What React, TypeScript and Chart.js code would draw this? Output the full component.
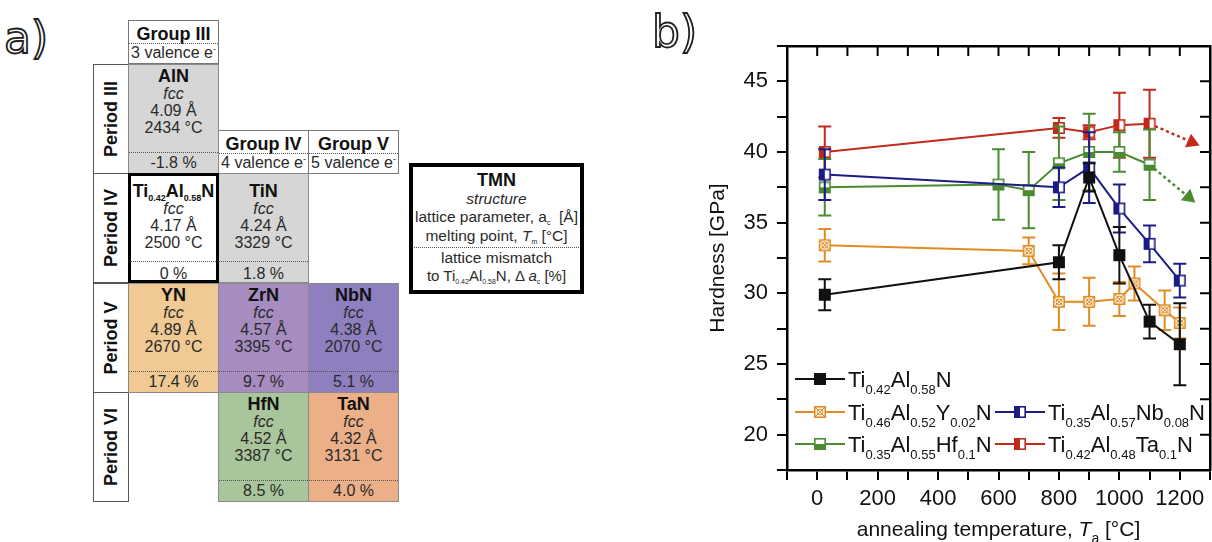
import React, { useEffect, useRef } from 'react';
import { Chart, registerables } from 'chart.js';
Chart.register(...registerables);

const FONT = '"Liberation Sans", Arial, Helvetica, sans-serif';

// ---------------- chart data (b) ----------------
const tempTiAlN = [25, 800, 900, 1000, 1100, 1200];
const hardTiAlN = [29.9, 32.2, 38.2, 32.7, 28.0, 26.4];
const errTiAlN = [1.1, 1.2, 1.0, 2.0, 1.2, 2.9];

const tempTiAlYN = [25, 700, 800, 900, 1000, 1050, 1150, 1200];
const hardTiAlYN = [33.4, 33.0, 29.4, 29.4, 29.6, 30.7, 28.8, 27.9];
const errTiAlYN = [1.15, 0.95, 2.0, 1.7, 1.2, 1.2, 1.4, 1.1];

const tempTiAlNbN = [25, 800, 900, 1000, 1100, 1200];
const hardTiAlNbN = [38.4, 37.5, 38.9, 36.0, 33.5, 30.9];
const errTiAlNbN = [1.8, 1.4, 2.5, 1.7, 1.3, 1.2];

const tempTiAlHfN = [25, 600, 700, 800, 900, 1000, 1100];
const hardTiAlHfN = [37.5, 37.7, 37.3, 39.2, 40.0, 40.0, 39.1];
const errTiAlHfN = [2.0, 2.5, 2.7, 2.6, 2.7, 1.4, 2.5];

const tempTiAlTaN = [25, 800, 900, 1000, 1100];
const hardTiAlTaN = [40.0, 41.7, 41.4, 41.9, 42.0];
const errTiAlTaN = [1.8, 0.7, 0.5, 2.3, 2.4];

const trendTaTemp = [1100, 1240];
const trendTaHard = [42.0, 40.7];
const trendHfTemp = [1100, 1230];
const trendHfHard = [39.1, 36.8];

const seriesLabels = [
  'Ti_{0.42}Al_{0.58}N',
  'Ti_{0.46}Al_{0.52}Y_{0.02}N',
  'Ti_{0.35}Al_{0.57}Nb_{0.08}N',
  'Ti_{0.35}Al_{0.55}Hf_{0.1}N',
  'Ti_{0.42}Al_{0.48}Ta_{0.1}N',
];
const xTickLabels = [0, 200, 400, 600, 800, 1000, 1200];
const yTickLabels = [20, 25, 30, 35, 40, 45];

// ---------------- table data (a) ----------------
const groupHeaders = ['Group III', 'Group IV', 'Group V'];
const groupValence = ['3 valence e', '4 valence e', '5 valence e'];
const periodLabels = ['Period III', 'Period IV', 'Period V', 'Period VI'];
const tmnNames = ['AlN', 'Ti_{0.42}Al_{0.58}N', 'TiN', 'YN', 'ZrN', 'NbN', 'HfN', 'TaN'];
const tmnStructure = ['fcc', 'fcc', 'fcc', 'fcc', 'fcc', 'fcc', 'fcc', 'fcc'];
const tmnLattice = ['4.09', '4.17', '4.24', '4.89', '4.57', '4.38', '4.52', '4.32'];
const tmnMelting = ['2434', '2500', '3329', '2670', '3395', '2070', '3387', '3131'];
const tmnMismatch = ['-1.8', '0', '1.8', '17.4', '9.7', '5.1', '8.5', '4.0'];
const tmnCol = [0, 0, 1, 0, 1, 2, 1, 2];
const tmnRow = [0, 1, 1, 2, 2, 2, 3, 3];

// ---------------- styles ----------------
const seriesColors = ['#111111', '#e08c24', '#1c1c86', '#4b8b31', '#c22a1c'];
const seriesMarkers = ['full', 'cross', 'left', 'bottom', 'left'];
const tmnFill = ['#d6d6d6', '#ffffff', '#d6d6d6', '#f0c994', '#a68cc0', '#8e80bf', '#a9c59c', '#ebb088'];
const COLX = [128, 218, 308];
const CW = 90;
const ROWY = [64, 173, 283, 392];
const RH = 110;

type Seg = { t: string; sub?: boolean; italic?: boolean };

function parseRich(s: string): Seg[] {
  const out: Seg[] = [];
  const re = /_\{([^}]*)\}/g;
  let last = 0;
  let m: RegExpExecArray | null;
  while ((m = re.exec(s))) {
    if (m.index > last) out.push({ t: s.slice(last, m.index) });
    out.push({ t: m[1], sub: true });
    last = re.lastIndex;
  }
  if (last < s.length) out.push({ t: s.slice(last) });
  return out;
}

function drawRich(ctx: CanvasRenderingContext2D, segs: Seg[], x: number, y: number, size: number, subSize: number, align: 'left' | 'center') {
  const fontFor = (s: Seg) => `${s.italic ? 'italic ' : ''}${s.sub ? subSize : size}px ${FONT}`;
  let w = 0;
  for (const s of segs) {
    ctx.font = fontFor(s);
    w += ctx.measureText(s.t).width;
  }
  let cx = align === 'center' ? x - w / 2 : x;
  ctx.textBaseline = 'alphabetic';
  ctx.textAlign = 'left';
  for (const s of segs) {
    ctx.font = fontFor(s);
    ctx.fillText(s.t, cx, s.sub ? y + size * 0.32 : y);
    cx += ctx.measureText(s.t).width;
  }
}

function makeMarker(kind: string, color: string): HTMLCanvasElement {
  const s = 14;
  const c = document.createElement('canvas');
  c.width = s;
  c.height = s;
  const g = c.getContext('2d')!;
  g.fillStyle = '#ffffff';
  g.fillRect(1, 1, 12, 12);
  g.fillStyle = color;
  if (kind === 'full') g.fillRect(1, 1, 12, 12);
  if (kind === 'left') g.fillRect(1, 1, 6, 12);
  if (kind === 'bottom') g.fillRect(1, 7, 12, 6);
  g.strokeStyle = color;
  g.lineWidth = 1.6;
  g.strokeRect(1.8, 1.8, 10.4, 10.4);
  if (kind === 'cross') {
    g.lineWidth = 1;
    g.beginPath();
    g.moveTo(2.5, 2.5);
    g.lineTo(11.5, 11.5);
    g.moveTo(11.5, 2.5);
    g.lineTo(2.5, 11.5);
    g.stroke();
    g.beginPath();
    g.arc(7, 7, 3, 0, Math.PI * 2);
    g.stroke();
  }
  return c;
}

const errorBarPlugin = {
  id: 'errorBars',
  beforeDatasetDraw(chart: any, args: any) {
    const ds = chart.data.datasets[args.index];
    const errs: number[] | undefined = ds.errors;
    if (!errs) return;
    const ys = chart.scales.y;
    const ctx = chart.ctx;
    ctx.save();
    ctx.strokeStyle = ds.borderColor;
    ctx.lineWidth = 2;
    args.meta.data.forEach((pt: any, i: number) => {
      const v = ds.data[i].y;
      const e = errs[i];
      const x = pt.x;
      const y1 = ys.getPixelForValue(v + e);
      const y2 = ys.getPixelForValue(v - e);
      ctx.beginPath();
      ctx.moveTo(x, y1);
      ctx.lineTo(x, y2);
      ctx.moveTo(x - 6.5, y1);
      ctx.lineTo(x + 6.5, y1);
      ctx.moveTo(x - 6.5, y2);
      ctx.lineTo(x + 6.5, y2);
      ctx.stroke();
    });
    ctx.restore();
  },
};

const innerTicksPlugin = {
  id: 'innerTicks',
  afterDraw(chart: any) {
    const { ctx, chartArea: a } = chart;
    const xs = chart.scales.x;
    const ys = chart.scales.y;
    ctx.save();
    ctx.strokeStyle = '#000';
    ctx.lineWidth = 2;
    ctx.beginPath();
    xs.ticks.forEach((t: any) => {
      const px = xs.getPixelForValue(t.value);
      ctx.moveTo(px, a.top);
      ctx.lineTo(px, a.top + 10);
    });
    ys.ticks.forEach((t: any) => {
      const py = ys.getPixelForValue(t.value);
      ctx.moveTo(a.right, py);
      ctx.lineTo(a.right - 10, py);
    });
    ctx.stroke();
    ctx.restore();
  },
};

const legendCol = [0, 0, 1, 0, 1];
const legendRow = [0, 1, 1, 2, 2];
const legendColX = [115, 315];
const legendRowY = [379, 412, 444];

function makeLegendPlugin(markers: HTMLCanvasElement[]) {
  return {
    id: 'customLegend',
    afterDraw(chart: any) {
      const ctx = chart.ctx;
      ctx.save();
      seriesLabels.forEach((lab, i) => {
        const x = legendColX[legendCol[i]];
        const y = legendRowY[legendRow[i]];
        ctx.strokeStyle = seriesColors[i];
        ctx.lineWidth = 2;
        ctx.beginPath();
        ctx.moveTo(x, y);
        ctx.lineTo(x + 50, y);
        ctx.stroke();
        ctx.drawImage(markers[i], x + 25 - 7, y - 7);
        ctx.fillStyle = '#111';
        drawRich(ctx, parseRich(lab), x + 53, y + 8, 22, 13, 'left');
      });
      // x axis title
      const a = chart.chartArea;
      ctx.fillStyle = '#111';
      drawRich(
        ctx,
        [{ t: 'annealing temperature, ' }, { t: 'T', italic: true }, { t: 'a', sub: true }, { t: ' [°C]' }],
        (a.left + a.right) / 2,
        536,
        21,
        14,
        'center'
      );
      ctx.restore();
    },
  };
}

const CANVAS_W = 550;

function HardnessChart() {
  const ref = useRef<HTMLCanvasElement>(null);
  useEffect(() => {
    if (!ref.current) return;
    const markers = seriesColors.map((c, i) => makeMarker(seriesMarkers[i], c));
    const temps = [tempTiAlN, tempTiAlYN, tempTiAlNbN, tempTiAlHfN, tempTiAlTaN];
    const hards = [hardTiAlN, hardTiAlYN, hardTiAlNbN, hardTiAlHfN, hardTiAlTaN];
    const errs = [errTiAlN, errTiAlYN, errTiAlNbN, errTiAlHfN, errTiAlTaN];
    const datasets: any[] = seriesLabels.map((lab, i) => ({
      label: lab,
      data: temps[i].map((t, j) => ({ x: t, y: hards[i][j] })),
      errors: errs[i],
      borderColor: seriesColors[i],
      backgroundColor: seriesColors[i],
      borderWidth: 2,
      pointStyle: markers[i],
      pointRadius: 7,
      tension: 0,
    }));
    const arrowRotation = (ctx: any) => {
      const ds = ctx.dataset.data;
      const xs = ctx.chart.scales.x;
      const ys = ctx.chart.scales.y;
      const dx = xs.getPixelForValue(ds[1].x) - xs.getPixelForValue(ds[0].x);
      const dy = ys.getPixelForValue(ds[1].y) - ys.getPixelForValue(ds[0].y);
      return (Math.atan2(dx, -dy) * 180) / Math.PI;
    };
    const trend = (tx: number[], ty: number[], color: string) => ({
      label: '',
      data: tx.map((t, j) => ({ x: t, y: ty[j] })),
      borderColor: color,
      backgroundColor: color,
      borderWidth: 2.5,
      borderDash: [3, 3],
      pointStyle: 'triangle',
      pointRadius: [0, 6],
      pointBorderColor: color,
      pointBackgroundColor: color,
      pointRotation: arrowRotation,
    });
    datasets.push(trend(trendTaTemp, trendTaHard, seriesColors[4]));
    datasets.push(trend(trendHfTemp, trendHfHard, seriesColors[3]));

    const tickFont = { family: FONT, size: 22 };
    const chart = new Chart(ref.current, {
      type: 'line',
      data: { datasets },
      options: {
        animation: false,
        responsive: false,
        maintainAspectRatio: false,
        layout: { padding: 0 },
        plugins: { legend: { display: false }, tooltip: { enabled: false }, title: { display: false } },
        scales: {
          x: {
            type: 'linear',
            position: 'bottom',
            min: -100,
            max: 1300,
            ticks: {
              stepSize: 100,
              autoSkip: false,
              maxRotation: 0,
              color: '#111',
              font: tickFont,
              padding: 6,
              callback: (v: any) => (xTickLabels.includes(Number(v)) ? String(v) : ''),
            },
            grid: { drawOnChartArea: false, drawTicks: true, tickLength: 10, color: '#000', lineWidth: 2 },
            border: { display: true, color: '#000', width: 2.5 },
            afterFit: (s: any) => {
              s.height = 72;
            },
          },
          x2: {
            type: 'linear',
            position: 'top',
            min: -100,
            max: 1300,
            ticks: { display: false },
            grid: { display: false, drawTicks: false },
            border: { display: true, color: '#000', width: 2.5 },
            afterFit: (s: any) => {
              s.height = 46;
            },
          },
          y: {
            type: 'linear',
            position: 'left',
            min: 17.5,
            max: 47.5,
            ticks: {
              stepSize: 2.5,
              autoSkip: false,
              color: '#111',
              font: tickFont,
              padding: 9,
              callback: (v: any) => (yTickLabels.includes(Number(v)) ? String(v) : ''),
            },
            grid: { drawOnChartArea: false, drawTicks: true, tickLength: 10, color: '#000', lineWidth: 2 },
            border: { display: true, color: '#000', width: 2.5 },
            title: {
              display: true,
              text: 'Hardness [GPa]',
              color: '#111',
              font: { family: FONT, size: 21 },
              padding: { top: 26, bottom: 0 },
            },
            afterFit: (s: any) => {
              s.width = 107;
            },
          },
          y2: {
            type: 'linear',
            position: 'right',
            min: 17.5,
            max: 47.5,
            ticks: { display: false },
            grid: { display: false, drawTicks: false },
            border: { display: true, color: '#000', width: 2.5 },
            afterFit: (s: any) => {
              s.width = CANVAS_W - 530;
            },
          },
        },
      } as any,
      plugins: [errorBarPlugin, innerTicksPlugin, makeLegendPlugin(markers)],
    });
    return () => chart.destroy();
  }, []);
  return (
    <canvas
      ref={ref}
      width={CANVAS_W}
      height={542}
      style={{ position: 'absolute', left: 680, top: 0, width: CANVAS_W, height: 542 }}
    />
  );
}

// ---------------- table (a) ----------------
function Sub({ children, size }: { children: React.ReactNode; size: number }) {
  return <span style={{ fontSize: size, position: 'relative', top: size * 0.45 }}>{children}</span>;
}

function Formula({ text, sub }: { text: string; sub: number }) {
  return (
    <>
      {parseRich(text).map((s, i) =>
        s.sub ? (
          <Sub key={i} size={sub}>
            {s.t}
          </Sub>
        ) : (
          <span key={i}>{s.t}</span>
        )
      )}
    </>
  );
}

function Line({ cy, size, bold, italic, children, color }: any) {
  return (
    <div
      style={{
        position: 'absolute',
        left: 0,
        right: 0,
        top: cy - 10,
        height: 20,
        lineHeight: '20px',
        textAlign: 'center',
        fontSize: size,
        fontWeight: bold ? 700 : 400,
        fontStyle: italic ? 'italic' : 'normal',
        whiteSpace: 'nowrap',
        color: color || '#2a2a2a',
      }}
    >
      {children}
    </div>
  );
}

function Dotted({ cy }: { cy: number }) {
  return <div style={{ position: 'absolute', left: 1, right: 1, top: cy, borderTop: '1px dotted #555' }} />;
}

function Frame({ w }: { w: string }) {
  return <div style={{ position: 'absolute', inset: 0, border: w, boxSizing: 'border-box' }} />;
}

function TmnCell({ i }: { i: number }) {
  const x = COLX[tmnCol[i]];
  const y = ROWY[tmnRow[i]];
  const sh = tmnRow[i] === 1 ? 6 : 0;
  const thick = i === 1;
  return (
    <div style={{ position: 'absolute', left: x, top: y, width: CW + 1, height: RH, background: tmnFill[i], zIndex: thick ? 3 : 1 }}>
      <Line cy={12 + sh} size={18} bold color="#111">
        <Formula text={tmnNames[i]} sub={9} />
      </Line>
      <Line cy={30 + sh} size={16} italic>
        {tmnStructure[i]}
      </Line>
      <Line cy={47 + sh} size={16}>
        {tmnLattice[i]} Å
      </Line>
      <Line cy={64 + sh} size={16}>
        {tmnMelting[i]} °C
      </Line>
      <Dotted cy={88} />
      <Line cy={99 + (sh ? 2 : 0)} size={16}>
        {tmnMismatch[i]} %
      </Line>
      <Frame w={thick ? '3px solid #000' : '1px solid #8a8a8a'} />
    </div>
  );
}

function GroupHeader({ i, x, y }: { i: number; x: number; y: number }) {
  return (
    <div style={{ position: 'absolute', left: x, top: y, width: CW + 1, height: 44, background: '#fff' }}>
      <Line cy={14} size={18} bold color="#111">
        {groupHeaders[i]}
      </Line>
      <Dotted cy={23} />
      <Line cy={33} size={16}>
        {groupValence[i]}
        <span style={{ fontSize: 9, position: 'relative', top: -6 }}>-</span>
      </Line>
      <Frame w="1px solid #777" />
    </div>
  );
}

function PeriodLabel({ i }: { i: number }) {
  return (
    <div style={{ position: 'absolute', left: 93, top: ROWY[i], width: 36, height: RH, background: '#fff' }}>
      <div
        style={{
          position: 'absolute',
          left: '50%',
          top: '50%',
          width: 110,
          textAlign: 'center',
          fontSize: 18,
          fontWeight: 700,
          color: '#111',
          whiteSpace: 'nowrap',
          transform: 'translate(-50%, -50%) rotate(-90deg)',
        }}
      >
        {periodLabels[i]}
      </div>
      <Frame w="1px solid #555" />
    </div>
  );
}

function KeyBox() {
  return (
    <div style={{ position: 'absolute', left: 409, top: 163, width: 175, height: 131, background: '#fff' }}>
      <Line cy={17} size={18} bold color="#111">
        TMN
      </Line>
      <Line cy={36} size={15.5} italic>
        structure
      </Line>
      <Line cy={54} size={15.5}>
        lattice parameter, a<Sub size={7}>c</Sub>&nbsp; [Å]
      </Line>
      <Line cy={73} size={15.5}>
        melting point, <i>T</i>
        <Sub size={7}>m</Sub> [°C]
      </Line>
      <Dotted cy={84} />
      <Line cy={95} size={15.5}>
        lattice mismatch
      </Line>
      <Line cy={113} size={15}>
        to Ti<Sub size={7}>0.42</Sub>Al<Sub size={7}>0.58</Sub>N, Δ <i>a</i>
        <Sub size={7}>c</Sub> [%]
      </Line>
      <Frame w="4px solid #000" />
    </div>
  );
}

function PanelLabel({ text, x, y }: { text: string; x: number; y: number }) {
  return (
    <div
      style={{
        position: 'absolute',
        left: x,
        top: y,
        fontFamily: '"DejaVu Sans", sans-serif',
        fontSize: 44,
        lineHeight: '44px',
        color: '#fff',
        WebkitTextStroke: '1.8px #222',
        whiteSpace: 'nowrap',
        zIndex: 5,
      }}
    >
      {text}
    </div>
  );
}

export default function App() {
  return (
    <div
      style={{
        position: 'fixed',
        left: 0,
        top: 0,
        width: 1212,
        height: 542,
        background: '#fff',
        overflow: 'hidden',
        fontFamily: FONT,
      }}
    >
      <PanelLabel text="a)" x={4} y={16} />
      <PanelLabel text="b)" x={652} y={10} />
      <GroupHeader i={0} x={128} y={20} />
      <GroupHeader i={1} x={218} y={130} />
      <GroupHeader i={2} x={308} y={130} />
      {periodLabels.map((_, i) => (
        <PeriodLabel key={i} i={i} />
      ))}
      {tmnNames.map((_, i) => (
        <TmnCell key={i} i={i} />
      ))}
      <KeyBox />
      <HardnessChart />
    </div>
  );
}
